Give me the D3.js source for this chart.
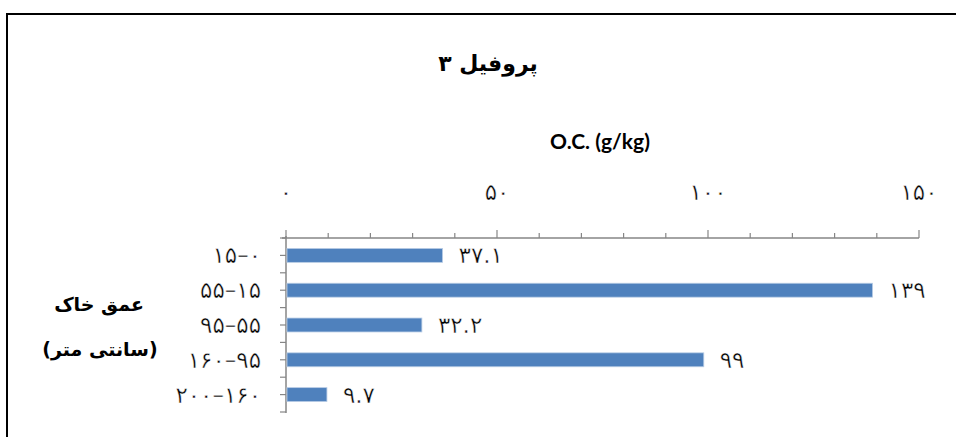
<!DOCTYPE html>
<html>
<head>
<meta charset="utf-8">
<script src="https://cdn.jsdelivr.net/npm/d3@7"></script>
<style>
  body { margin: 0; background: #fff; }
  svg { display: block; }
  .num { stroke: #fff; stroke-width: 0.45px; }
</style>
</head>
<body>
<script>
// depth classes (shown top to bottom) and organic carbon values
const depths = ['۱۵–۰', '۵۵–۱۵', '۹۵–۵۵', '۱۶۰–۹۵', '۲۰۰–۱۶۰'];
const values = [37.1, 139, 32.2, 99, 9.7];
const valueLabels = ['۳۷.۱', '۱۳۹', '۳۲.۲', '۹۹', '۹.۷'];
const xTicks = [0, 50, 100, 150];
const xTickLabels = ['۰', '۵۰', '۱۰۰', '۱۵۰'];

const W = 956, H = 437;
const fa = "'DejaVu Sans', sans-serif";

const svg = d3.select('body').append('svg')
  .attr('width', W)
  .attr('height', H);

svg.append('rect')
  .attr('x', 7).attr('y', 14)
  .attr('width', W + 20).attr('height', H + 20)
  .attr('fill', 'none')
  .attr('stroke', '#000')
  .attr('stroke-width', 2);

const xScale = d3.scaleLinear()
  .domain([0, 150])
  .range([286, 919]);

const yScale = d3.scaleBand()
  .domain(depths)
  .range([238, 412])
  .paddingInner(0.6)
  .paddingOuter(0.3);

const band = d3.scaleBand().domain(depths).range([238, 412]);

// title
svg.append('text')
  .attr('x', 488).attr('y', 71)
  .attr('text-anchor', 'middle')
  .attr('font-family', fa)
  .attr('font-weight', 'bold')
  .attr('font-size', 22)
  .text('پروفیل ۳');

svg.append('text')
  .attr('x', 600).attr('y', 149)
  .attr('text-anchor', 'middle')
  .attr('font-family', "Lato, sans-serif")
  .attr('font-weight', 'bold')
  .attr('font-size', 21)
  .text('O.C. (g/kg)');

// y title
const yt = svg.append('text')
  .attr('text-anchor', 'middle')
  .attr('font-family', fa)
  .attr('font-weight', 'bold')
  .attr('font-size', 19);
yt.append('tspan').attr('x', 99).attr('y', 311).text('عمق خاک');
yt.append('tspan').attr('x', 100).attr('y', 356).text('(سانتی متر)');

// x axis (top)
const minor = d3.range(0, 151, 10);
const ax = svg.append('g');
ax.append('line')
  .attr('x1', xScale(0) - 4).attr('x2', xScale(150))
  .attr('y1', 238).attr('y2', 238)
  .attr('stroke', '#868686').attr('stroke-width', 1.5);
ax.selectAll('.mt')
  .data(minor)
  .enter().append('line')
  .attr('x1', d => xScale(d)).attr('x2', d => xScale(d))
  .attr('y1', 238)
  .attr('y2', d => d % 50 === 0 ? 230 : 233)
  .attr('stroke', '#868686').attr('stroke-width', 1.2);
ax.selectAll('.tl')
  .data(xTicks)
  .enter().append('text')
  .attr('class', 'num')
  .attr('x', d => xScale(d))
  .attr('y', 200)
  .attr('text-anchor', 'middle')
  .attr('font-family', fa)
  .attr('font-size', 23)
  .text((d, i) => xTickLabels[i]);

// y axis
const ay = svg.append('g');
ay.append('line')
  .attr('x1', 286).attr('x2', 286)
  .attr('y1', 236).attr('y2', 413)
  .attr('stroke', '#868686').attr('stroke-width', 1.5);
const yTickPos = [];
depths.forEach(d => {
  yTickPos.push(band(d));
  yTickPos.push(band(d) + band.bandwidth() / 2);
});
yTickPos.push(412);
ay.selectAll('.yt')
  .data(yTickPos)
  .enter().append('line')
  .attr('x1', 280).attr('x2', 286)
  .attr('y1', d => d).attr('y2', d => d)
  .attr('stroke', '#868686').attr('stroke-width', 1.2);
ay.selectAll('.yl')
  .data(depths)
  .enter().append('text')
  .attr('class', 'num')
  .attr('x', 261)
  .attr('y', d => band(d) + band.bandwidth() / 2 + 8)
  .attr('text-anchor', 'end')
  .attr('direction', 'ltr')
  .attr('font-family', fa)
  .attr('font-size', 23)
  .text(d => d);

// bars
svg.selectAll('.bar')
  .data(values)
  .enter().append('rect')
  .attr('x', xScale(0) + 1)
  .attr('y', (d, i) => yScale(depths[i]))
  .attr('width', d => xScale(d) - xScale(0) - 1)
  .attr('height', yScale.bandwidth())
  .attr('fill', '#4f81bd')
  .attr('stroke', '#b9cde5')
  .attr('stroke-width', 0.8);

svg.selectAll('.val')
  .data(values)
  .enter().append('text')
  .attr('class', 'num')
  .attr('x', d => xScale(d) + 16)
  .attr('y', (d, i) => band(depths[i]) + band.bandwidth() / 2 + 8)
  .attr('direction', 'ltr')
  .attr('font-family', fa)
  .attr('font-size', 23)
  .text((d, i) => valueLabels[i]);
</script>
</body>
</html>
